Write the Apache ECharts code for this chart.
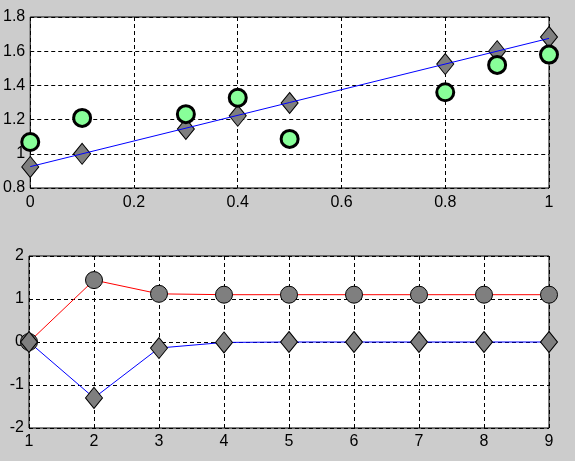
<!DOCTYPE html>
<html><head><meta charset="utf-8">
<script src="https://cdn.jsdelivr.net/npm/echarts@6/dist/echarts.min.js"></script>
<style>html,body{margin:0;padding:0;background:#cccccc}#c{width:575px;height:461px}</style>
</head><body><div id="c"></div>
<script>
// Top plot
const topX = [0, 0.1, 0.3, 0.4, 0.5, 0.8, 0.9, 1];
const topDiamonds = [0.923, 1.0, 1.145, 1.222, 1.297, 1.525, 1.60, 1.683];
const topCircles = [1.069, 1.21, 1.232, 1.328, 1.087, 1.36, 1.52, 1.58];
const fitX = [0, 1];
const fitY = [0.925, 1.675];
// Bottom plot
const botX = [1, 2, 3, 4, 5, 6, 7, 8, 9];
const redCircles = [0, 1.44, 1.12, 1.1, 1.1, 1.1, 1.1, 1.1, 1.1];
const blueDiamonds = [0, -1.30, -0.14, -0.01, 0, 0, 0, 0, 0];

const pair = (xs, ys) => xs.map((x, i) => [x, ys[i]]);
const font = {fontFamily: 'Liberation Sans, Arial, sans-serif', fontSize: 16, color: '#000'};
const split = {show: true, lineStyle: {color: '#000', type: [4, 3], width: 1}};
const gray = {color: '#7f7f7f', borderColor: '#000', borderWidth: 1, opacity: 1};

const chart = echarts.init(document.getElementById('c'));
chart.setOption({
  backgroundColor: '#cccccc',
  animation: false,
  grid: [
    {left: 29, right: 26, top: 17, height: 171, show: true, backgroundColor: '#fff', borderColor: '#000', borderWidth: 1},
    {left: 29, right: 26, top: 256, height: 172, show: true, backgroundColor: '#fff', borderColor: '#000', borderWidth: 1}
  ],
  xAxis: [
    {gridIndex: 0, type: 'value', min: 0, max: 1, interval: 0.2, axisLine: {show: false}, axisTick: {show: false},
     axisLabel: Object.assign({margin: 7}, font), splitLine: split},
    {gridIndex: 1, type: 'value', min: 1, max: 9, interval: 1, axisLine: {show: false}, axisTick: {show: false},
     axisLabel: Object.assign({margin: 6}, font), splitLine: split}
  ],
  yAxis: [
    {gridIndex: 0, type: 'value', min: 0.8, max: 1.8, interval: 0.2, axisLine: {show: false}, axisTick: {show: false},
     axisLabel: Object.assign({margin: 5, formatter: v => String(+v.toFixed(1))}, font), splitLine: split},
    {gridIndex: 1, type: 'value', min: -2, max: 2, interval: 1, axisLine: {show: false}, axisTick: {show: false},
     axisLabel: Object.assign({margin: 5}, font), splitLine: split}
  ],
  series: [
    {type: 'line', xAxisIndex: 0, yAxisIndex: 0, data: pair(fitX, fitY), showSymbol: false, symbol: 'none',
     lineStyle: {color: '#0000ff', width: 1}, clip: false, silent: true},
    {type: 'scatter', xAxisIndex: 0, yAxisIndex: 0, data: pair(topX, topDiamonds), symbol: 'diamond',
     symbolSize: [17, 21], itemStyle: gray, clip: false},
    {type: 'scatter', xAxisIndex: 0, yAxisIndex: 0, data: pair(topX, topCircles), symbol: 'circle',
     symbolSize: 17, itemStyle: {color: '#88ff99', borderColor: '#000', borderWidth: 3, opacity: 1}, clip: false},
    {type: 'line', xAxisIndex: 1, yAxisIndex: 1, data: pair(botX, redCircles), symbol: 'circle', symbolSize: 17,
     showAllSymbol: true, lineStyle: {color: '#ff0000', width: 1}, itemStyle: gray, clip: false},
    {type: 'line', xAxisIndex: 1, yAxisIndex: 1, data: pair(botX, blueDiamonds), symbol: 'diamond', symbolSize: [17, 21],
     showAllSymbol: true, lineStyle: {color: '#0000ff', width: 1}, itemStyle: gray, clip: false}
  ]
});
</script></body></html>
